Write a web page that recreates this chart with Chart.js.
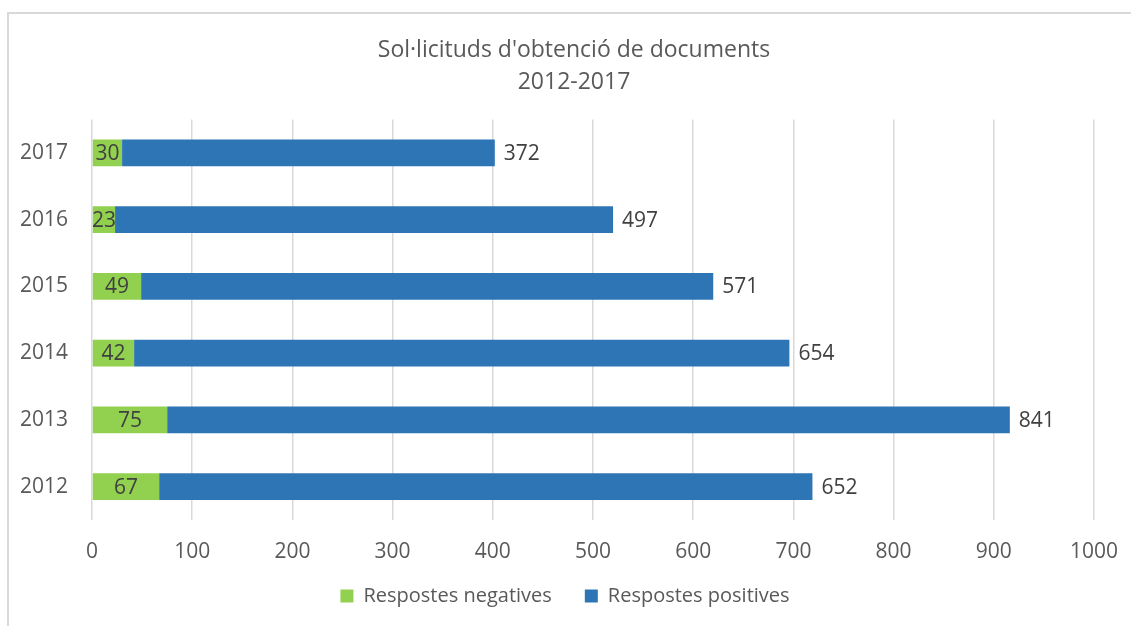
<!DOCTYPE html>
<html>
<head>
<meta charset="utf-8">
<script src="https://cdn.jsdelivr.net/npm/chart.js@4"></script>
<style>
  html, body { margin: 0; padding: 0; background: #fff; }
  #wrap { width: 1131px; height: 626px; }
</style>
</head>
<body>
<div id="wrap"><canvas id="chart" width="1131" height="626"></canvas></div>
<script>
const years = ['2012', '2013', '2014', '2015', '2016', '2017'];
const negatives = [67, 75, 42, 49, 23, 30];
const positives = [652, 841, 654, 571, 497, 372];
const xTicks = [0, 100, 200, 300, 400, 500, 600, 700, 800, 900, 1000];

const FONT = "'Open Sans', 'Noto Sans', sans-serif";

// frame round the chart, like the original Excel chart area
const framePlugin = {
  id: 'frame',
  beforeDraw(chart) {
    const c = chart.ctx;
    c.save();
    c.strokeStyle = '#d9d9d9';
    c.lineWidth = 2;
    c.strokeRect(8, 13, 1300, 800);
    c.restore();
  }
};

// nudge title / legend to the centre of the frame and let the x labels
// hang below the (thin) x axis box without being clipped
const tweakPlugin = {
  id: 'tweak',
  afterLayout(chart) {
    chart.titleBlock.left += 27;
    chart.titleBlock.right += 27;
    chart.legend.left += 18;
    chart.legend.right += 18;
    chart.scales.x.bottom = chart.scales.x.top + 60;
  }
};

// value labels: green ones centred in the bar, blue ones after the bar end
const labelsPlugin = {
  id: 'barLabels',
  afterDatasetsDraw(chart) {
    const c = chart.ctx;
    c.save();
    c.font = '21px ' + FONT;
    c.fillStyle = '#404040';
    c.textBaseline = 'middle';
    chart.data.datasets.forEach((ds, di) => {
      const meta = chart.getDatasetMeta(di);
      meta.data.forEach((bar, i) => {
        const p = bar.getProps(['x', 'y', 'base'], true);
        if (di === 0) {
          c.textAlign = 'center';
          c.fillText(ds.data[i], (p.x + p.base) / 2, p.y + 1);
        } else {
          c.textAlign = 'left';
          c.fillText(ds.data[i], p.x + 9, p.y + 1);
        }
      });
    });
    c.restore();
  }
};

new Chart(document.getElementById('chart'), {
  type: 'bar',
  data: {
    labels: years,
    datasets: [
      { label: 'Respostes negatives', data: negatives, backgroundColor: '#92d050', borderWidth: 0 },
      { label: 'Respostes positives', data: positives, backgroundColor: '#2e75b6', borderWidth: 0 }
    ]
  },
  options: {
    indexAxis: 'y',
    responsive: false,
    animation: false,
    layout: { padding: { left: 0, right: 37, top: 0, bottom: 10 } },
    datasets: { bar: { categoryPercentage: 1, barPercentage: 0.4 } },
    scales: {
      x: {
        stacked: true,
        min: 0,
        max: 1000,
        afterBuildTicks(scale) { scale.ticks = xTicks.map(v => ({ value: v })); },
        grid: { color: '#d9d9d9', lineWidth: 1.5, drawTicks: false },
        border: { display: false },
        ticks: {
          color: '#595959',
          font: { family: FONT, size: 21 },
          padding: 19,
          callback: (v) => String(v)
        },
        afterFit(scale) {
          scale.height = 33;
          scale.paddingLeft = 0;
          scale.paddingRight = 0;
        }
      },
      y: {
        stacked: true,
        reverse: true,
        grid: { display: false },
        border: { display: false },
        ticks: { color: '#595959', font: { family: FONT, size: 21 }, padding: 16 },
        afterFit(scale) { scale.width = 92; }
      }
    },
    plugins: {
      title: {
        display: true,
        text: ["Sol·licituds d'obtenció de documents", '2012-2017'],
        color: '#595959',
        font: { family: FONT, size: 23, weight: 'normal', lineHeight: 1.4 },
        padding: { top: 34, bottom: 21 }
      },
      legend: {
        position: 'bottom',
        labels: {
          color: '#595959',
          font: { family: FONT, size: 20 },
          boxWidth: 13,
          boxHeight: 13,
          padding: 33
        }
      },
      tooltip: { enabled: false }
    }
  },
  plugins: [framePlugin, tweakPlugin, labelsPlugin]
});
</script>
</body>
</html>
